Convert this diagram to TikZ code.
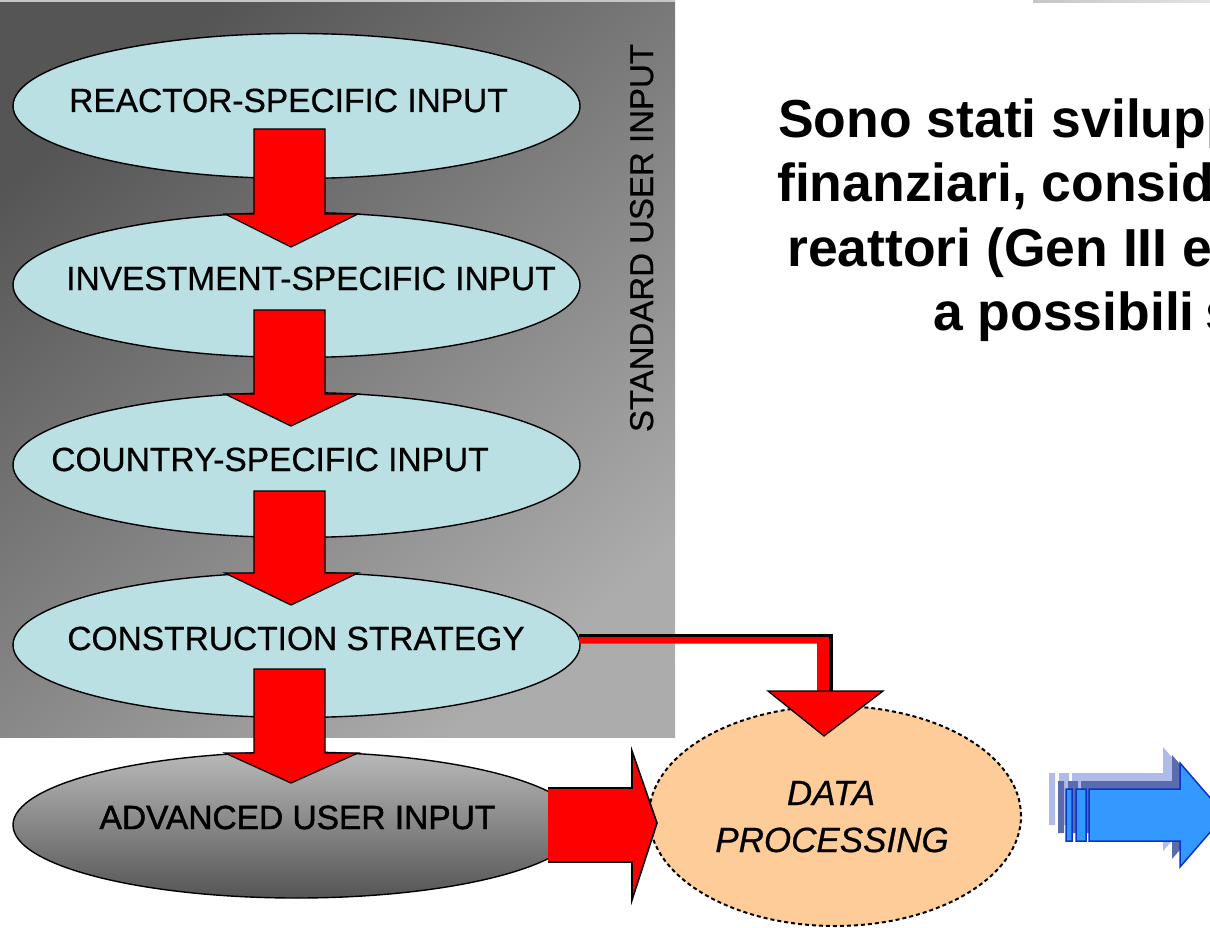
\documentclass[tikz,border=0pt]{standalone}
\usepackage{fontspec}
\setmainfont{Liberation Sans}
\newfontfamily\heavysans[FakeBold=0.6]{Liberation Sans}
\newfontfamily\heaviersans[FakeBold=1.4]{Liberation Sans}
\usetikzlibrary{shapes.geometric}
\definecolor{ellblue}{HTML}{BAE0E3}
\definecolor{peach}{HTML}{FECC99}
\definecolor{arrred}{HTML}{FF0000}
\definecolor{bluemain}{HTML}{3399FF}
\definecolor{blueedge}{HTML}{0A33CC}
\definecolor{blueshadowA}{HTML}{5A6CAE}
\definecolor{blueshadowB}{HTML}{AFBCE9}
\definecolor{graydark}{HTML}{555555}
\definecolor{graylight}{HTML}{ACACAC}
\tikzset{
  inputell/.style={ellipse, draw=black, line width=1.4pt, fill=ellblue, minimum width=567pt, minimum height=145pt, inner sep=0pt},
  advell/.style={ellipse, draw=black, line width=1.4pt, top color=gray!55, bottom color=graydark, minimum width=567pt, minimum height=146pt, inner sep=0pt},
  dataell/.style={ellipse, draw=black, line width=2pt, dash pattern=on 4pt off 3pt, fill=peach, minimum width=372pt, minimum height=220pt, inner sep=0pt},
  elltext/.style={anchor=base, inner sep=0pt, font=\heavysans\fontsize{33.5}{40}\selectfont},
  datatext/.style={anchor=base, inner sep=0pt, font=\heavysans\fontsize{35}{40}\selectfont\itshape},
  bodytext/.style={anchor=base west, inner sep=0pt, font=\fontsize{53.5}{64}\selectfont\bfseries},
  redarrow/.style={fill=arrred, draw=black, line width=1.3pt, line join=miter},
}
\newcommand\downarr[3]{%
  \filldraw[redarrow] (254,#1) -- (325,#1) -- (325,#2) -- (358,#2) -- (291,#3) -- (225,#2) -- (254,#2) -- cycle;}
\newcommand\blueshape{%
  (1066,789) rectangle (1072,841)
  (1076,789) rectangle (1086,841)
  (1089,789) -- (1180,789) -- (1180,763) -- (1225,815) -- (1180,867) -- (1180,841) -- (1089,841) -- cycle}
\begin{document}
\begin{tikzpicture}[x=1pt,y=-1pt]
\useasboundingbox (0,0) rectangle (1210,928);
\clip (0,0) rectangle (1210,928);
\fill[white] (0,0) rectangle (1210,928);
% standard input panel
\shade[top color=graydark, bottom color=graylight, shading angle=40] (0,0) rectangle (675,737);
\fill[gray!45] (0,0) rectangle (675,2);
\shade[left color=gray!45, right color=gray!22] (1033,0) rectangle (1210,2.5);
\node[rotate=90, anchor=base, inner sep=0pt, font=\heavysans\fontsize{33}{40}\selectfont] (std) at (653,238) {STANDARD USER INPUT};
% input ellipses
\node[inputell] (e1) at (296.5,106) {};
\node[inputell] (e2) at (296.5,285) {};
\node[inputell] (e3) at (296.5,465) {};
\node[inputell] (e4) at (296.5,645) {};
\node[advell]   (e5) at (296.5,825) {};
\node[elltext] (t1) at (288.5,112) {REACTOR-SPECIFIC INPUT};
\node[elltext] (t2) at (311,290) {INVESTMENT-SPECIFIC INPUT};
\node[elltext] (t3) at (270,471) {COUNTRY-SPECIFIC INPUT};
\node[elltext] (t4) at (296,650) {CONSTRUCTION STRATEGY};
\node[elltext, font=\heaviersans\fontsize{33.5}{40}\selectfont] (t5) at (297.5,829) {ADVANCED USER INPUT};
% data processing
\node[dataell] (dp) at (835,816) {};
\node[datatext] (dp1) at (831,805) {DATA};
\node[datatext] (dp2) at (832,852) {PROCESSING};
% vertical arrows
\downarr{129}{214}{247}
\downarr{310}{394}{426}
\downarr{491}{573}{605}
\downarr{669}{753}{783}
% bent connector from construction strategy to data processing
\coordinate (cs) at (e4.east);
\fill[arrred] (579,637) -- (830,637) -- (830,691) -- (817,691) -- (817,643.5) -- (579,643.5) -- cycle;
\draw[black, line width=3.5pt] (579,635.5) -- (831,635.5) -- (831,692);
\filldraw[redarrow] (768,691) -- (883,691) -- (824,736) -- cycle;
% big right arrow to data processing
\fill[arrred] (548,788) -- (632,788) -- (632,751) -- (657,823) -- (632,900) -- (632,862) -- (548,862) -- cycle;
\draw[black, line width=1.6pt, line join=miter] (548,788) -- (632,788) -- (632,751) -- (657,823) -- (632,900) -- (632,862) -- (548,862);
% blue striped arrow with shadows
\begin{scope}[shift={(-17,-16)}]
  \fill[blueshadowB] \blueshape;
\end{scope}
\begin{scope}[shift={(-8,-8)}]
  \fill[blueshadowA] \blueshape;
\end{scope}
\filldraw[fill=bluemain, draw=blueedge, line width=1.5pt] \blueshape;
% body text
\node[bodytext] (l1) at (778,138) {Sono stati svilupp};
\node[bodytext] (l2) at (777,202) {finanziari, consid};
\node[bodytext] (l3) at (787,266) {reattori (Gen III e};
\node[bodytext] (l4) at (933,330) {a possibili\hspace{0.2em}s};
\end{tikzpicture}
\end{document}
